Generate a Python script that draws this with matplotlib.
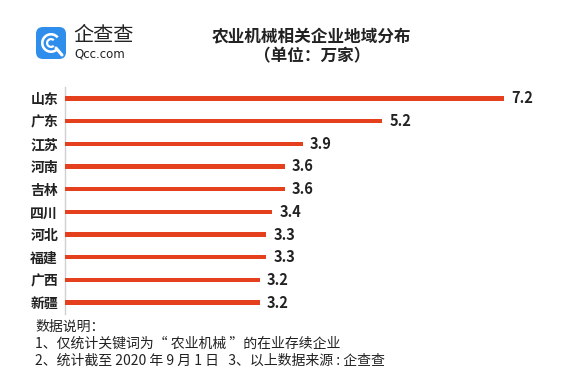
import matplotlib
matplotlib.use("Agg")
import matplotlib.pyplot as plt
from matplotlib.patches import FancyBboxPatch, Wedge

plt.rcParams['font.family'] = ['Noto Sans CJK SC', 'DejaVu Sans']

categories = ["山东", "广东", "江苏", "河南", "吉林", "四川", "河北", "福建", "广西", "新疆"]
values = [7.2, 5.2, 3.9, 3.6, 3.6, 3.4, 3.3, 3.3, 3.2, 3.2]
title = "农业机械相关企业地域分布"
subtitle = "（单位：万家）"
notes = ["数据说明：",
         "1、仅统计关键词为“ 农业机械 ”的在业存续企业",
         "2、统计截至 2020 年 9 月 1 日   3、以上数据来源 : 企查查"]

W, H = 580, 374
fig = plt.figure(figsize=(W / 100, H / 100), dpi=100)

# axes placement in pixels
x0, px_per_unit, xmax = 65, 61.0, 8.0
ytop, ybot = 87, 314
ax = fig.add_axes([x0 / W, 1 - ybot / H, xmax * px_per_unit / W, (ybot - ytop) / H])

bar_color = "#E4401E"
ypos = list(range(len(categories)))
ax.barh(ypos, values, height=0.19, color=bar_color, zorder=3)
ax.set_xlim(0, xmax)
ax.set_ylim(len(categories) - 0.5, -0.5)
ax.set_yticks(ypos)
ax.set_yticklabels(categories, fontsize=10, fontweight='bold', color='#222222')
ax.tick_params(axis='y', length=0, pad=5)
ax.set_xticks([])
for s in ['top', 'right', 'bottom']:
    ax.spines[s].set_visible(False)
ax.spines['left'].set_color('#d0d0d0')
ax.spines['left'].set_linewidth(1.0)
ax.patch.set_alpha(0)

for y, v in zip(ypos, values):
    ax.annotate(f"{v:.1f}", xy=(v, y), xytext=(5, 0), textcoords='offset points',
                va='center', ha='left', fontsize=10.5, fontweight='bold', color='#222222')

# titles
fig.text(312 / W, 1 - 37 / H, title, ha='center', va='center', fontsize=12, fontweight='bold', color='#222222')
fig.text(312 / W, 1 - 56 / H, subtitle, ha='center', va='center', fontsize=12, fontweight='bold', color='#222222')

# notes
for i, line in enumerate(notes):
    fig.text(35 / W, 1 - (327 + i * 17) / H, line, ha='left', va='center', fontsize=10, color='#222222')

# logo
lax = fig.add_axes([0, 0, 1, 1])
lax.set_xlim(0, W)
lax.set_ylim(H, 0)
lax.axis('off')
lax.patch.set_alpha(0)
blue = "#2F8EEB"
lax.add_patch(FancyBboxPatch((36, 27), 30, 32, boxstyle="round,pad=0,rounding_size=7",
                             facecolor=blue, edgecolor='none'))
lax.add_patch(Wedge((51, 43), 10, 40, 320, width=2.6, facecolor='white', edgecolor='none'))
lax.add_patch(Wedge((51, 43), 5, 45, 315, width=2.2, facecolor='white', edgecolor='none'))
lax.plot([56, 62], [48, 55], color='white', lw=2.2, solid_capstyle='round')
fig.text(73 / W, 1 - 36 / H, "企查查", ha='left', va='center', fontsize=14.5, color='#222222')
fig.text(74 / W, 1 - 54 / H, "Qcc.com", ha='left', va='center', fontsize=8.5, color='#222222',
         family=['DejaVu Sans'])

fig.savefig("out.png", dpi=100, facecolor='white')
